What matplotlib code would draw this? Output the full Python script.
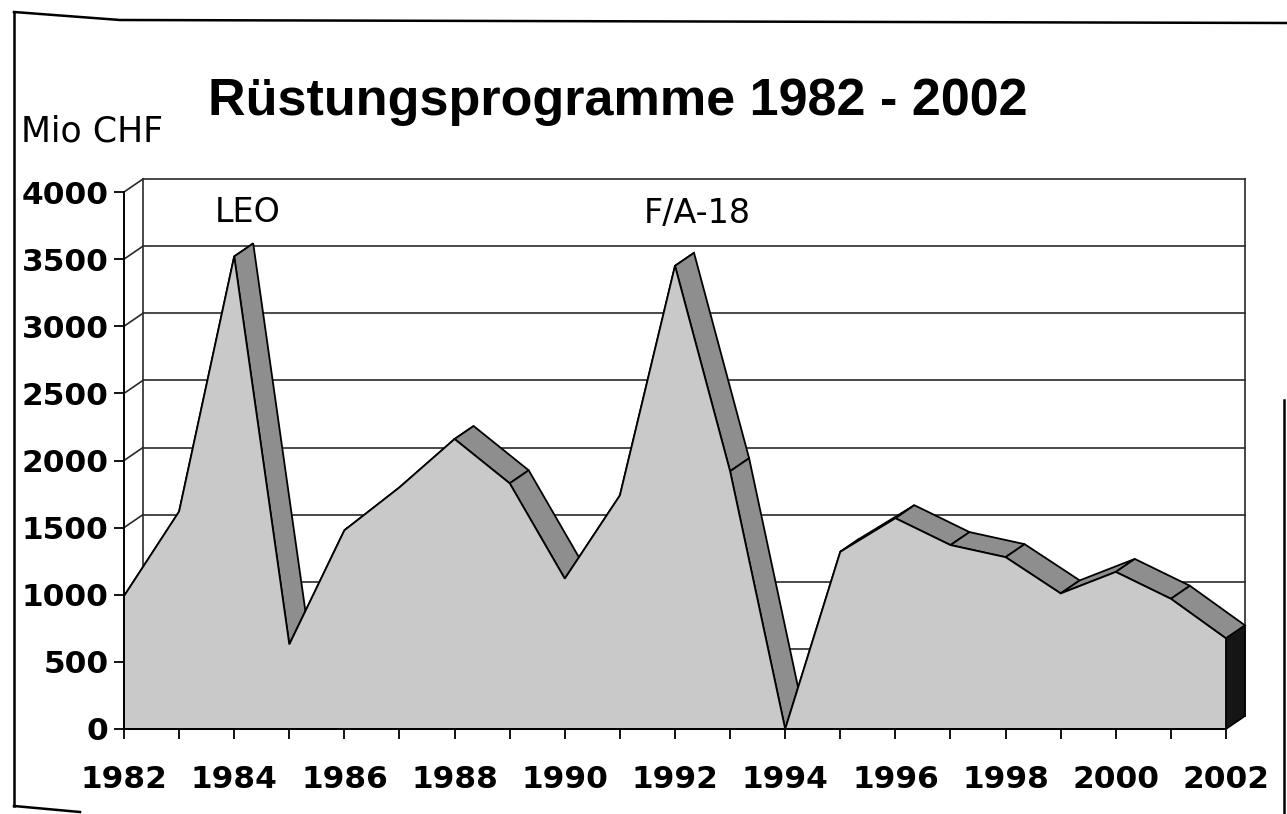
import numpy as np
import matplotlib.pyplot as plt
from matplotlib.patches import Polygon
from matplotlib.lines import Line2D

# Rüstungsprogramme, Mio CHF
years = list(range(1982, 2003))
values = [990, 1620, 3520, 630, 1480, 1800, 2160, 1830, 1120, 1740, 3450,
          1920, 0, 1320, 1570, 1370, 1280, 1010, 1170, 970, 675]
yticks = [0, 500, 1000, 1500, 2000, 2500, 3000, 3500, 4000]
xlabels = [str(y) for y in range(1982, 2003, 2)]
title = "Rüstungsprogramme 1982 - 2002"
unit = "Mio CHF"
notes = [("LEO", 1984.25, 3850), ("F/A-18", 1992.4, 3840)]

W, H = 1287, 814
fig = plt.figure(figsize=(W / 100, H / 100), dpi=100)
ax = fig.add_axes([124 / W, 85 / H, 1102 / W, 537 / H])
ax.set_xlim(1982, 2002)
ax.set_ylim(0, 4000)
ax.set_facecolor('none')

# Tiefe der 3D-Darstellung in Datenkoordinaten
DX = 19 / 55.1
DY = 13 / (537 / 4000)

grid_col = '#2a2a2a'
for v in yticks:
    ax.plot([1982 + DX, 2002 + DX], [v + DY, v + DY], color=grid_col, lw=1.2, clip_on=False, zorder=1)
    ax.plot([1982, 1982 + DX], [v, v + DY], color=grid_col, lw=1.2, clip_on=False, zorder=1)
ax.plot([1982 + DX, 1982 + DX], [DY, 4000 + DY], color=grid_col, lw=1.2, clip_on=False, zorder=1)
ax.plot([2002 + DX, 2002 + DX], [DY, 4000 + DY], color=grid_col, lw=1.2, clip_on=False, zorder=1)

# Oberseiten (von links nach rechts)
for i in range(len(years) - 1):
    x0, x1 = years[i], years[i + 1]
    v0, v1 = values[i], values[i + 1]
    quad = [(x0, v0), (x1, v1), (x1 + DX, v1 + DY), (x0 + DX, v0 + DY)]
    ax.add_patch(Polygon(quad, closed=True, facecolor='#8e8e8e', edgecolor='black',
                         lw=1.3, clip_on=False, zorder=2 + i * 0.01))

# Stirnseite rechts
end = [(years[-1], 0), (years[-1], values[-1]), (years[-1] + DX, values[-1] + DY),
       (years[-1] + DX, DY)]
ax.add_patch(Polygon(end, closed=True, facecolor='#151515', edgecolor='black',
                     lw=1.2, clip_on=False, zorder=3))

# Vorderseite
front = [(years[0], 0)] + list(zip(years, values)) + [(years[-1], 0)]
ax.add_patch(Polygon(front, closed=True, facecolor='#c9c9c9', edgecolor='black',
                     lw=1.3, clip_on=False, zorder=4))

for spine in ['top', 'right']:
    ax.spines[spine].set_visible(False)
for spine in ['left', 'bottom']:
    ax.spines[spine].set_linewidth(1.4)
    ax.spines[spine].set_zorder(5)

ax.set_yticks(yticks)
ax.set_yticklabels([str(v) for v in yticks])
ax.set_xticks(list(range(1982, 2003, 2)))
ax.set_xticklabels(xlabels)
ax.set_xticks(list(range(1983, 2002, 2)), minor=True)
ax.tick_params(axis='both', which='both', direction='out', length=7, width=1.3, color='black')
ax.tick_params(axis='y', pad=4)
ax.tick_params(axis='x', pad=19)
for lab in ax.get_xticklabels() + ax.get_yticklabels():
    lab.set_fontfamily('DejaVu Sans')
    lab.set_fontweight('bold')
    lab.set_fontsize(22.5)

for txt, x, y in notes:
    ax.text(x, y, txt, fontsize=24, family='DejaVu Sans', ha='center', va='center', zorder=6)

fig.text(618 / W, 1 - 101 / H, title, fontsize=37.5, fontweight='bold',
         family='Liberation Sans', ha='center', va='center')
fig.text(21 / W, 1 - 131 / H, unit, fontsize=25, family='DejaVu Sans', ha='left', va='center')

# Rahmen der Vorlage
def fl(xs, ys):
    fig.add_artist(Line2D([x / W for x in xs], [1 - y / H for y in ys], color='black', lw=1.8))

fl([14, 14], [12, 806])
fl([14, 120, 1287], [12, 20, 23])
fl([14, 80], [806, 812])
fl([1284, 1284], [400, 814])

fig.savefig('out.png', dpi=100)
